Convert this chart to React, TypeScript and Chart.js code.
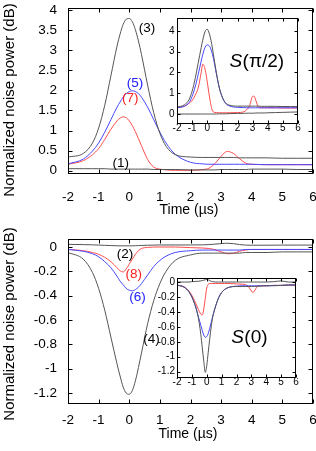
import React, { useEffect, useRef } from "react";
import { Chart, registerables } from "chart.js";

Chart.register(...registerables);

const FONT = '"Liberation Sans", Arial, Helvetica, sans-serif';

// shared time axis (µs)
const TIME = [-2, -1.5, -1.2, -1, -0.8, -0.6, -0.4, -0.3, -0.2, -0.1, 0, 0.1, 0.2, 0.3, 0.4, 0.6, 0.8, 1, 1.2, 1.5, 2, 2.4, 2.6, 2.8, 3, 3.1, 3.2, 3.4, 3.6, 3.8, 4, 4.5, 5, 5.5, 6];

const X_TICKS = [-2, -1, 0, 1, 2, 3, 4, 5, 6];
const TOP_Y_TICKS = [0, 0.5, 1, 1.5, 2, 2.5, 3, 3.5, 4];
const TOP_INSET_Y_TICKS = [0, 1, 2, 3, 4];
const BOTTOM_Y_TICKS = [0, -0.2, -0.4, -0.6, -0.8, -1, -1.2];

// ---- S(pi/2) main panel
const TOP_C3 = [0.34, 0.43, 0.69, 1.06, 1.63, 2.36, 3.1, 3.4, 3.64, 3.77, 3.79, 3.71, 3.51, 3.23, 2.89, 2.13, 1.44, 0.93, 0.61, 0.4, 0.34, 0.33, 0.33, 0.33, 0.33, 0.33, 0.33, 0.33, 0.32, 0.32, 0.32, 0.32, 0.31, 0.31, 0.31];
const TOP_C5 = [0.17, 0.29, 0.49, 0.69, 0.96, 1.27, 1.58, 1.71, 1.83, 1.92, 1.97, 1.99, 1.97, 1.92, 1.83, 1.58, 1.27, 0.96, 0.69, 0.41, 0.21, 0.17, 0.16, 0.16, 0.16, 0.16, 0.16, 0.16, 0.16, 0.16, 0.16, 0.15, 0.15, 0.15, 0.15];
const TOP_C7 = [0.16, 0.25, 0.4, 0.55, 0.78, 1.03, 1.24, 1.31, 1.34, 1.32, 1.24, 1.12, 0.97, 0.8, 0.62, 0.28, 0.09, 0.04, 0.02, 0.01, 0.01, 0.03, 0.06, 0.18, 0.36, 0.44, 0.48, 0.43, 0.3, 0.19, 0.16, 0.15, 0.15, 0.15, 0.15];
const TOP_C1 = [0.05, 0.05, 0.05, 0.05, 0.05, 0.04, 0.04, 0.04, 0.04, 0.04, 0.04, 0.04, 0.04, 0.04, 0.04, 0.04, 0.03, 0.03, 0.03, 0.03, 0.02, 0.02, 0.02, 0.02, 0.03, 0.03, 0.03, 0.03, 0.03, 0.03, 0.04, 0.04, 0.04, 0.03, 0.03];

// ---- S(pi/2) inset
const TOP_IN_BLACK = [0.33, 0.45, 0.7, 1.1, 1.7, 2.45, 3.2, 3.55, 3.85, 4.03, 4.08, 3.95, 3.7, 3.35, 2.9, 2.0, 1.25, 0.8, 0.55, 0.42, 0.38, 0.38, 0.38, 0.38, 0.38, 0.38, 0.38, 0.38, 0.37, 0.37, 0.37, 0.37, 0.36, 0.36, 0.36];
const TOP_IN_BLUE = [0.3, 0.38, 0.55, 0.85, 1.3, 1.9, 2.55, 2.85, 3.1, 3.27, 3.33, 3.3, 3.2, 2.98, 2.7, 1.95, 1.25, 0.8, 0.52, 0.38, 0.32, 0.31, 0.3, 0.3, 0.3, 0.3, 0.3, 0.3, 0.3, 0.3, 0.3, 0.3, 0.3, 0.3, 0.3];
const TOP_IN_RED = [0.3, 0.38, 0.52, 0.65, 0.9, 1.25, 2.0, 2.4, 2.3, 2.0, 1.55, 1.05, 0.6, 0.25, 0.1, 0.07, 0.06, 0.06, 0.06, 0.06, 0.07, 0.1, 0.2, 0.4, 0.85, 0.86, 0.68, 0.33, 0.3, 0.3, 0.3, 0.3, 0.29, 0.29, 0.29];
const TOP_IN_GRAY = [0.0, 0.0, 0.0, 0.0, 0.0, 0.0, 0.0, 0.0, 0.0, 0.0, 0.0, 0.0, 0.0, 0.0, 0.0, 0.0, 0.01, 0.01, 0.01, 0.02, 0.03, 0.03, 0.04, 0.04, 0.04, 0.04, 0.05, 0.05, 0.05, 0.05, 0.06, 0.07, 0.08, 0.09, 0.1];

// ---- S(0) main panel
const BOT_C2 = [0.022, 0.02, 0.018, 0.016, 0.014, 0.012, 0.01, 0.01, 0.01, 0.01, 0.01, 0.01, 0.011, 0.012, 0.013, 0.015, 0.016, 0.017, 0.017, 0.017, 0.017, 0.018, 0.02, 0.024, 0.028, 0.03, 0.031, 0.028, 0.02, 0.016, 0.015, 0.015, 0.016, 0.016, 0.016];
const BOT_C4 = [-0.045, -0.1, -0.21, -0.34, -0.52, -0.74, -0.96, -1.06, -1.15, -1.2, -1.21, -1.18, -1.1, -0.99, -0.87, -0.63, -0.44, -0.3, -0.2, -0.11, -0.065, -0.05, -0.05, -0.05, -0.05, -0.05, -0.05, -0.05, -0.05, -0.045, -0.045, -0.045, -0.04, -0.04, -0.04];
const BOT_C6 = [-0.02, -0.035, -0.055, -0.08, -0.12, -0.17, -0.24, -0.28, -0.31, -0.34, -0.355, -0.36, -0.35, -0.33, -0.3, -0.23, -0.16, -0.11, -0.075, -0.045, -0.03, -0.025, -0.025, -0.025, -0.025, -0.025, -0.025, -0.025, -0.025, -0.02, -0.02, -0.02, -0.02, -0.02, -0.02];
const BOT_C8 = [-0.02, -0.03, -0.045, -0.06, -0.085, -0.12, -0.17, -0.195, -0.205, -0.18, -0.14, -0.1, -0.06, -0.03, -0.012, -0.003, 0.0, 0.0, 0.0, 0.0, -0.005, -0.008, -0.012, -0.022, -0.04, -0.048, -0.055, -0.052, -0.035, -0.025, -0.02, -0.02, -0.02, -0.02, -0.02];

// ---- S(0) inset
const BOT_IN_GRAY = [0.0, 0.0, 0.0, 0.005, 0.008, 0.01, 0.015, 0.02, 0.025, 0.03, 0.035, 0.03, 0.02, 0.01, 0.005, 0.0, 0.0, 0.0, 0.0, 0.0, 0.0, 0.0, 0.0, 0.0, 0.0, 0.0, 0.0, 0.0, 0.0, 0.0, 0.0, 0.005, 0.015, 0.0, 0.0];
const BOT_IN_BLACK = [-0.04, -0.07, -0.13, -0.2, -0.3, -0.44, -0.7, -0.88, -1.06, -1.21, -1.12, -0.94, -0.76, -0.6, -0.47, -0.32, -0.21, -0.14, -0.1, -0.07, -0.06, -0.06, -0.06, -0.06, -0.06, -0.06, -0.06, -0.055, -0.055, -0.05, -0.05, -0.05, -0.045, -0.04, -0.04];
const BOT_IN_BLUE = [-0.04, -0.07, -0.13, -0.2, -0.3, -0.44, -0.58, -0.65, -0.71, -0.74, -0.73, -0.69, -0.62, -0.54, -0.46, -0.32, -0.21, -0.14, -0.1, -0.07, -0.055, -0.05, -0.05, -0.05, -0.05, -0.05, -0.05, -0.05, -0.05, -0.05, -0.05, -0.045, -0.045, -0.04, -0.04];
const BOT_IN_RED = [-0.04, -0.07, -0.12, -0.18, -0.26, -0.35, -0.43, -0.44, -0.36, -0.22, -0.08, -0.03, -0.02, -0.02, -0.02, -0.02, -0.02, -0.02, -0.02, -0.02, -0.025, -0.03, -0.035, -0.06, -0.12, -0.14, -0.12, -0.06, -0.05, -0.05, -0.05, -0.045, -0.045, -0.04, -0.04];

// curve labels (text, time, value)
const TOP_LABELS = ["(3)", "(5)", "(7)", "(1)"];
const TOP_LABEL_T = [0.58, 0.19, 0.03, -0.28];
const TOP_LABEL_V = [3.55, 2.18, 1.8, 0.18];
const BOT_LABELS = ["(2)", "(8)", "(6)", "(4)"];
const BOT_LABEL_T = [-0.14, 0.15, 0.27, 0.73];
const BOT_LABEL_V = [-0.06, -0.222, -0.41, -0.76];

const BLACK = "#555555";
const GRAY = "#808080";
const BLUE = "#4848ff";
const RED = "#ff4c4c";

type Series = { vals: number[]; color: string };
type TextSpec = { text: string; size: number; x: number; y: number };
type PanelCfg = {
  left: number; top: number; width: number; height: number;
  padTop: number; padRight: number; yAxisW: number; xAxisH: number;
  xMin: number; xMax: number; yMin: number; yMax: number;
  xTicks: number[]; yTicks: number[];
  tickFont: number; xTickPad: number; yTickPad: number; tickLen: number;
  series: Series[];
  xTitle: TextSpec; yTitle?: TextSpec;
  labels?: { texts: string[]; t: number[]; v: number[]; colors: string[]; size: number };
  big?: { italic: string; rest: string; t: number; v: number; size: number };
  whiteBg: boolean;
};

function framePlugin(p: PanelCfg) {
  return {
    id: "frame",
    beforeDraw(chart: any) {
      if (!p.whiteBg) return;
      const { ctx, chartArea: a } = chart;
      ctx.save();
      ctx.fillStyle = "#ffffff";
      ctx.fillRect(a.left, a.top, a.right - a.left, a.bottom - a.top);
      ctx.restore();
    },
    afterDraw(chart: any) {
      const { ctx, chartArea: a, scales } = chart;
      const xs = scales.x, ys = scales.y;
      const tl = p.tickLen;
      ctx.save();
      ctx.strokeStyle = "#000";
      ctx.lineWidth = 1;
      const L = Math.round(a.left) + 0.5;
      const R = Math.round(a.right) - 0.5;
      const T = Math.round(a.top) + 0.5;
      const B = Math.round(a.bottom) - 0.5;
      ctx.beginPath();
      for (const v of p.xTicks) {
        const px = Math.round(xs.getPixelForValue(v)) + 0.5;
        ctx.moveTo(px, B); ctx.lineTo(px, B - tl);
        ctx.moveTo(px, T); ctx.lineTo(px, T + tl);
      }
      for (const v of p.yTicks) {
        const py = Math.round(ys.getPixelForValue(v)) + 0.5;
        ctx.moveTo(L, py); ctx.lineTo(L + tl, py);
        ctx.moveTo(R, py); ctx.lineTo(R - tl, py);
      }
      ctx.stroke();
      ctx.strokeRect(L, T, R - L, B - T);

      ctx.fillStyle = "#000";
      ctx.textAlign = "center";
      ctx.textBaseline = "middle";
      ctx.font = `${p.xTitle.size}px ${FONT}`;
      ctx.fillText(p.xTitle.text, p.xTitle.x, p.xTitle.y);
      if (p.yTitle) {
        ctx.save();
        ctx.translate(p.yTitle.x, p.yTitle.y);
        ctx.rotate(-Math.PI / 2);
        ctx.font = `${p.yTitle.size}px ${FONT}`;
        ctx.fillText(p.yTitle.text, 0, 0);
        ctx.restore();
      }
      if (p.labels) {
        const lb = p.labels;
        ctx.font = `${lb.size}px ${FONT}`;
        lb.texts.forEach((txt, i) => {
          ctx.fillStyle = lb.colors[i];
          ctx.fillText(txt, xs.getPixelForValue(lb.t[i]), ys.getPixelForValue(lb.v[i]));
        });
      }
      if (p.big) {
        const b = p.big;
        const cx = xs.getPixelForValue(b.t);
        const cy = ys.getPixelForValue(b.v);
        ctx.fillStyle = "#000";
        ctx.textAlign = "left";
        ctx.font = `italic ${b.size}px ${FONT}`;
        const w1 = ctx.measureText(b.italic).width;
        ctx.font = `${b.size}px ${FONT}`;
        const w2 = ctx.measureText(b.rest).width;
        const x0 = cx - (w1 + w2) / 2;
        ctx.font = `italic ${b.size}px ${FONT}`;
        ctx.fillText(b.italic, x0, cy);
        ctx.font = `${b.size}px ${FONT}`;
        ctx.fillText(b.rest, x0 + w1 + 0.5, cy);
      }
      ctx.restore();
    },
  };
}

function buildConfig(p: PanelCfg): any {
  const tickFont = { family: FONT, size: p.tickFont };
  return {
    type: "line",
    data: {
      datasets: p.series.map((s) => ({
        data: TIME.map((t, i) => ({ x: t, y: s.vals[i] })),
        borderColor: s.color,
        borderWidth: 1,
        pointRadius: 0,
        fill: false,
        cubicInterpolationMode: "monotone",
      })),
    },
    options: {
      responsive: false,
      maintainAspectRatio: false,
      animation: false,
      devicePixelRatio: 1,
      events: [],
      layout: { padding: { top: p.padTop, right: p.padRight, bottom: 0, left: 0 } },
      plugins: { legend: { display: false }, tooltip: { enabled: false }, title: { display: false } },
      scales: {
        x: {
          type: "linear",
          min: p.xMin,
          max: p.xMax,
          afterBuildTicks: (s: any) => { s.ticks = p.xTicks.map((v) => ({ value: v })); },
          afterFit: (s: any) => { s.height = p.xAxisH; s.paddingLeft = 0; s.paddingRight = 0; },
          grid: { display: false, drawTicks: false },
          border: { display: false },
          ticks: {
            autoSkip: false, maxRotation: 0, minRotation: 0, padding: p.xTickPad,
            color: "#000", font: tickFont, callback: (v: number) => String(v),
          },
        },
        y: {
          type: "linear",
          min: p.yMin,
          max: p.yMax,
          afterBuildTicks: (s: any) => { s.ticks = p.yTicks.map((v) => ({ value: v })); },
          afterFit: (s: any) => { s.width = p.yAxisW; s.paddingTop = 0; s.paddingBottom = 0; },
          grid: { display: false, drawTicks: false },
          border: { display: false },
          ticks: {
            autoSkip: false, padding: p.yTickPad,
            color: "#000", font: tickFont, callback: (v: number) => String(v),
          },
        },
      },
    },
    plugins: [framePlugin(p)],
  };
}

const TOP_MAIN: PanelCfg = {
  left: 0, top: 0, width: 316, height: 220,
  padTop: 8, padRight: 3, yAxisW: 68, xAxisH: 46,
  xMin: -2, xMax: 6, yMin: -0.082, yMax: 4.05,
  xTicks: X_TICKS, yTicks: TOP_Y_TICKS,
  tickFont: 13.5, xTickPad: 15, yTickPad: 11, tickLen: 4,
  series: [
    { vals: TOP_C3, color: BLACK },
    { vals: TOP_C1, color: BLACK },
    { vals: TOP_C5, color: BLUE },
    { vals: TOP_C7, color: RED },
  ],
  xTitle: { text: "Time (µs)", size: 14, x: 189, y: 210 },
  yTitle: { text: "Normalized noise power (dB)", size: 15, x: 10, y: 100 },
  labels: { texts: TOP_LABELS, t: TOP_LABEL_T, v: TOP_LABEL_V, colors: ["#000", "#2020ff", "#ff2020", "#000"], size: 13.5 },
  whiteBg: false,
};

const TOP_INSET: PanelCfg = {
  left: 150, top: 14, width: 160, height: 130,
  padTop: 4, padRight: 12, yAxisW: 27, xAxisH: 20,
  xMin: -2, xMax: 6, yMin: -0.48, yMax: 4.62,
  xTicks: X_TICKS, yTicks: TOP_INSET_Y_TICKS,
  tickFont: 10, xTickPad: -1.7, yTickPad: 2.5, tickLen: 3,
  series: [
    { vals: TOP_IN_BLACK, color: BLACK },
    { vals: TOP_IN_GRAY, color: BLACK },
    { vals: TOP_IN_BLUE, color: BLUE },
    { vals: TOP_IN_RED, color: RED },
  ],
  xTitle: { text: "Time (µs)", size: 10, x: 236, y: 123.3 },
  big: { italic: "S", rest: "(π/2)", t: 3.26, v: 2.5, size: 19 },
  whiteBg: true,
};

const BOT_MAIN: PanelCfg = {
  left: 0, top: 225, width: 316, height: 226,
  padTop: 14, padRight: 3, yAxisW: 68, xAxisH: 47,
  xMin: -2, xMax: 6, yMin: -1.29, yMax: 0.066,
  xTicks: X_TICKS, yTicks: BOTTOM_Y_TICKS,
  tickFont: 13.5, xTickPad: 8.4, yTickPad: 11, tickLen: 4,
  series: [
    { vals: BOT_C4, color: BLACK },
    { vals: BOT_C2, color: BLACK },
    { vals: BOT_C6, color: BLUE },
    { vals: BOT_C8, color: RED },
  ],
  xTitle: { text: "Time (µs)", size: 14, x: 188, y: 209 },
  yTitle: { text: "Normalized noise power (dB)", size: 15, x: 10, y: 99 },
  labels: { texts: BOT_LABELS, t: BOT_LABEL_T, v: BOT_LABEL_V, colors: ["#000", "#ff2020", "#2020ff", "#000"], size: 13.5 },
  whiteBg: false,
};

const BOT_INSET: PanelCfg = {
  left: 150, top: 270, width: 160, height: 130,
  padTop: 8, padRight: 14, yAxisW: 27, xAxisH: 22,
  xMin: -2, xMax: 6, yMin: -1.285, yMax: 0.054,
  xTicks: X_TICKS, yTicks: BOTTOM_Y_TICKS,
  tickFont: 10, xTickPad: -1.7, yTickPad: 2, tickLen: 3,
  series: [
    { vals: BOT_IN_BLACK, color: BLACK },
    { vals: BOT_IN_GRAY, color: BLACK },
    { vals: BOT_IN_BLUE, color: BLUE },
    { vals: BOT_IN_RED, color: RED },
  ],
  xTitle: { text: "Time (µs)", size: 10, x: 238, y: 121.7 },
  big: { italic: "S", rest: "(0)", t: 2.85, v: -0.74, size: 19 },
  whiteBg: true,
};

function Panel({ cfg }: { cfg: PanelCfg }) {
  const ref = useRef<HTMLCanvasElement | null>(null);
  useEffect(() => {
    if (!ref.current) return;
    const chart = new Chart(ref.current, buildConfig(cfg));
    return () => chart.destroy();
  }, [cfg]);
  return (
    <canvas
      ref={ref}
      width={cfg.width}
      height={cfg.height}
      style={{ position: "absolute", left: cfg.left, top: cfg.top, width: cfg.width, height: cfg.height }}
    />
  );
}

export default function App() {
  return (
    <div style={{ position: "absolute", left: 0, top: 0, width: 316, height: 451, background: "#fff", overflow: "hidden" }}>
      <Panel cfg={TOP_MAIN} />
      <Panel cfg={BOT_MAIN} />
      <Panel cfg={TOP_INSET} />
      <Panel cfg={BOT_INSET} />
    </div>
  );
}
